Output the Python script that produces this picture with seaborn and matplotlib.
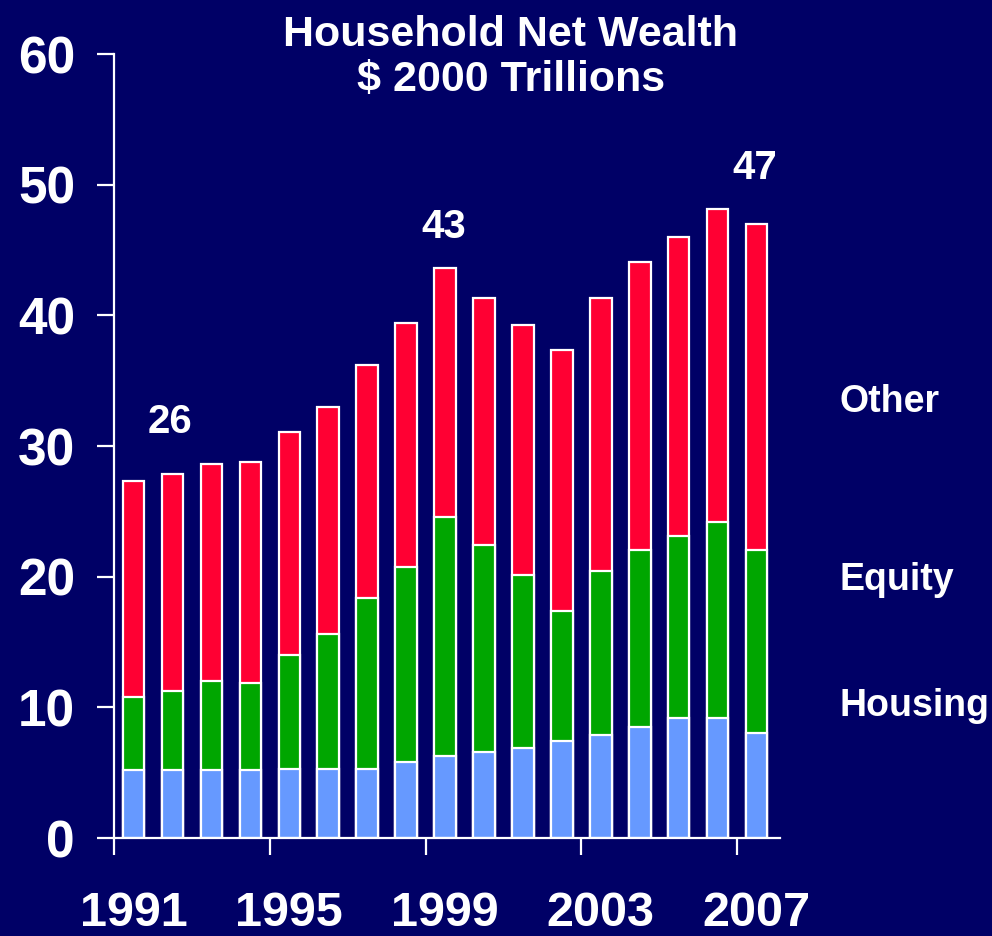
import matplotlib
matplotlib.use("Agg")
import matplotlib.pyplot as plt
import seaborn as sns
import pandas as pd

# values, $ 2000 trillions
years = [str(y) for y in range(1991, 2008)]
housing = [5.2, 5.2, 5.2, 5.2, 5.3, 5.3, 5.3, 5.8, 6.3, 6.6, 6.9, 7.4, 7.9, 8.5, 9.2, 9.2, 8.0]
equity = [5.6, 6.05, 6.85, 6.7, 8.7, 10.3, 13.05, 14.95, 18.3, 15.8, 13.2, 10.0, 12.55, 13.55, 13.95, 14.95, 14.05]
other = [16.55, 16.6, 16.6, 16.9, 17.05, 17.4, 17.85, 18.65, 19.0, 18.95, 19.15, 19.95, 20.9, 22.05, 22.85, 23.95, 24.95]

tick_years = ["1991", "1995", "1999", "2003", "2007"]
callouts = [("1991", "26", 31.0), ("1999", "43", 45.9), ("2007", "47", 50.4)]
series_names = ["Other", "Equity", "Housing"]
series_y = [32.6, 19.0, 9.3]
title_lines = ["Household Net Wealth", "$ 2000 Trillions"]

NAVY = "#000066"
RED = "#FF0033"
GREEN = "#00A600"
BLUE = "#6699FF"

sns.set_theme(style="white", rc={"axes.facecolor": NAVY, "figure.facecolor": NAVY})
plt.rcParams["font.family"] = ["Liberation Sans", "DejaVu Sans"]
plt.rcParams["font.weight"] = "bold"

df = pd.DataFrame({"year": years, "housing": housing, "equity": equity, "other": other})
df["h_top"] = df["housing"]
df["e_top"] = df["housing"] + df["equity"]
df["o_top"] = df["e_top"] + df["other"]

fig = plt.figure(figsize=(9.92, 9.36), dpi=100)
ax = fig.add_axes([0.1149, 0.1047, 0.6714, 0.8376])

bar_kw = dict(width=0.55, edgecolor="white", linewidth=1.6, saturation=1, order=years)
sns.barplot(data=df, x="year", y="o_top", color=RED, ax=ax, **bar_kw)
sns.barplot(data=df, x="year", y="e_top", color=GREEN, ax=ax, **bar_kw)
sns.barplot(data=df, x="year", y="h_top", color=BLUE, ax=ax, **bar_kw)

ax.set_xlim(-0.5, 16.6)
ax.set_ylim(0, 60)
ax.set_xlabel("")
ax.set_ylabel("")

for s in ["top", "right"]:
    ax.spines[s].set_visible(False)
for s in ["left", "bottom"]:
    ax.spines[s].set_color("white")
    ax.spines[s].set_linewidth(1.6)

ax.set_yticks(range(0, 61, 10))
ax.tick_params(axis="y", colors="white", labelsize=37, length=12, width=1.6,
               direction="out", pad=16, left=True)
for lab in ax.get_yticklabels():
    lab.set_fontweight("bold")

pos = [years.index(y) for y in tick_years]
ax.set_xticks([p - 0.5 for p in pos], [""] * len(pos))
ax.set_xticks(pos, tick_years, minor=True)
ax.tick_params(axis="x", which="major", colors="white", length=12, width=1.6,
               direction="out", bottom=True)
ax.tick_params(axis="x", which="minor", colors="white", labelsize=35, length=0, pad=38)
for lab in ax.get_xticklabels(minor=True):
    lab.set_fontweight("bold")

for yr, txt, yv in callouts:
    ax.text(years.index(yr) + (0.95 if yr == "1991" else -0.04), yv, txt, color="white",
            fontsize=29, fontweight="bold", ha="center", va="baseline")

for name, yv in zip(series_names, series_y):
    ax.text(18.13, yv, name, color="white", fontsize=27, fontweight="bold",
            ha="left", va="baseline", clip_on=False)

for line, yb in zip(title_lines, [0.9509, 0.9028]):
    fig.text(0.515, yb, line, color="white", fontsize=31, fontweight="bold",
             ha="center", va="baseline")

fig.savefig("out.png", dpi=100, facecolor=NAVY)
